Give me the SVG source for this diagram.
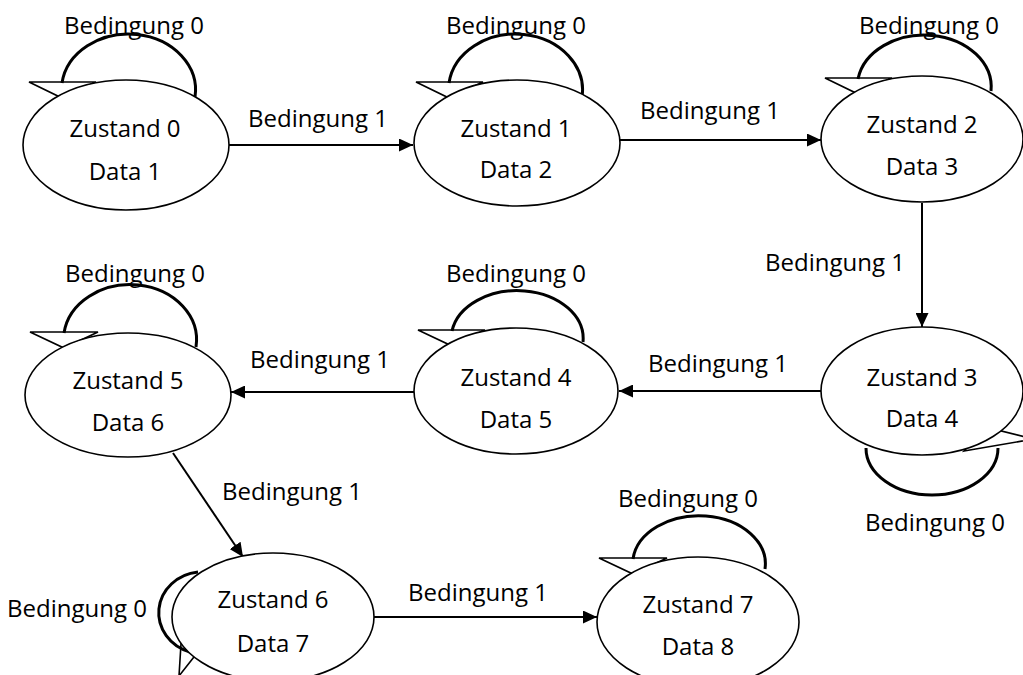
<svg xmlns="http://www.w3.org/2000/svg" width="1023" height="675" viewBox="0 0 1023 675">
  <style>
    .state { fill: #ffffff; stroke: #000000; stroke-width: 1.6; }
    .lbl { font-family: "Open Sans", "Liberation Sans", sans-serif; font-size: 24px; fill: #000000; text-anchor: middle; }
    .edge { fill: none; stroke: #000000; stroke-width: 2; marker-end: url(#arrow); }
    .loop { fill: none; stroke: #000000; stroke-width: 3; }
    .loophead { fill: #ffffff; stroke: #000000; stroke-width: 1.6; stroke-linejoin: miter; }
  </style>
  <defs>
    <marker id="arrow" markerUnits="userSpaceOnUse" markerWidth="14" markerHeight="13" refX="14" refY="6.5" orient="auto">
      <path d="M0,0 L14,6.5 L0,13 z" fill="#000000"/>
    </marker>
  </defs>

  <rect width="1023" height="675" fill="#ffffff"/>

  <!-- transitions: self-loops (Bedingung 0) and forward edges (Bedingung 1) -->
  <g id="connectors">
    <!-- self-loops, open triangular heads partly hidden behind the states -->
    <polygon class="loophead" points="29,82 96,82 62,98"/>
    <path class="loop" d="M62,83 A67,56 0 0 1 195,97"/>
    <text class="lbl" x="134" y="34">Bedingung 0</text>

    <polygon class="loophead" points="416,82 483,82 449,98"/>
    <path class="loop" d="M449,83 A67,56 0 0 1 582,97"/>
    <text class="lbl" x="516" y="34">Bedingung 0</text>

    <polygon class="loophead" points="825,78 892,78 858,94"/>
    <path class="loop" d="M858,79 A67,52 0 0 1 991,91"/>
    <text class="lbl" x="929" y="34">Bedingung 0</text>

    <polygon class="loophead" points="964,451 1034,439 985,427"/>
    <path class="loop" d="M866,448 A66,47 0 0 0 998,448"/>
    <text class="lbl" x="935" y="531">Bedingung 0</text>

    <polygon class="loophead" points="418,330 485,330 452,346"/>
    <path class="loop" d="M452,331 A66,48 0 0 1 583,342"/>
    <text class="lbl" x="516" y="282">Bedingung 0</text>

    <polygon class="loophead" points="30,332 98,332 64,348"/>
    <path class="loop" d="M64,333 A66,55 0 0 1 196,347"/>
    <text class="lbl" x="135" y="282">Bedingung 0</text>

    <polygon class="loophead" points="182,628 179,676 201,648"/>
    <path class="loop" d="M198,572 A44,41 0 0 0 190,652"/>
    <text class="lbl" x="77" y="617">Bedingung 0</text>

    <polygon class="loophead" points="599,558 667,558 633,574"/>
    <path class="loop" d="M633,559 A66,48 0 0 1 765,569"/>
    <text class="lbl" x="688" y="507">Bedingung 0</text>

    <!-- forward transitions -->
    <line class="edge" x1="229" y1="145" x2="413" y2="145"/>
    <text class="lbl" x="318" y="127">Bedingung 1</text>

    <line class="edge" x1="620" y1="140" x2="821" y2="140"/>
    <text class="lbl" x="710" y="119">Bedingung 1</text>

    <line class="edge" x1="922" y1="203" x2="922" y2="327"/>
    <text class="lbl" x="835" y="271">Bedingung 1</text>

    <line class="edge" x1="821" y1="391" x2="619" y2="391"/>
    <text class="lbl" x="718" y="372">Bedingung 1</text>

    <line class="edge" x1="414" y1="392" x2="231" y2="392"/>
    <text class="lbl" x="320" y="368">Bedingung 1</text>

    <line class="edge" x1="173" y1="453" x2="243" y2="557"/>
    <text class="lbl" x="292" y="500">Bedingung 1</text>

    <line class="edge" x1="374" y1="617" x2="597" y2="617"/>
    <text class="lbl" x="478" y="601">Bedingung 1</text>
  </g>

  <!-- states -->
  <g id="state0">
    <ellipse class="state" cx="126" cy="145" rx="103" ry="65"/>
    <text class="lbl" x="125" y="137">Zustand 0</text>
    <text class="lbl" x="125" y="180">Data 1</text>
  </g>
  <g id="state1">
    <ellipse class="state" cx="517" cy="143" rx="103" ry="63"/>
    <text class="lbl" x="516" y="137">Zustand 1</text>
    <text class="lbl" x="516" y="178">Data 2</text>
  </g>
  <g id="state2">
    <ellipse class="state" cx="922" cy="139" rx="101" ry="63"/>
    <text class="lbl" x="922" y="133">Zustand 2</text>
    <text class="lbl" x="922" y="175">Data 3</text>
  </g>
  <g id="state3">
    <ellipse class="state" cx="922" cy="391" rx="101" ry="64"/>
    <text class="lbl" x="922" y="386">Zustand 3</text>
    <text class="lbl" x="922" y="427">Data 4</text>
  </g>
  <g id="state4">
    <ellipse class="state" cx="516" cy="391" rx="102" ry="63"/>
    <text class="lbl" x="516" y="386">Zustand 4</text>
    <text class="lbl" x="516" y="428">Data 5</text>
  </g>
  <g id="state5">
    <ellipse class="state" cx="128" cy="395" rx="103" ry="62"/>
    <text class="lbl" x="128" y="389">Zustand 5</text>
    <text class="lbl" x="128" y="431">Data 6</text>
  </g>
  <g id="state6">
    <ellipse class="state" cx="273" cy="617" rx="101" ry="64"/>
    <text class="lbl" x="273" y="608">Zustand 6</text>
    <text class="lbl" x="273" y="652">Data 7</text>
  </g>
  <g id="state7">
    <ellipse class="state" cx="698" cy="622" rx="101" ry="65"/>
    <text class="lbl" x="698" y="613">Zustand 7</text>
    <text class="lbl" x="698" y="655">Data 8</text>
  </g>
</svg>
